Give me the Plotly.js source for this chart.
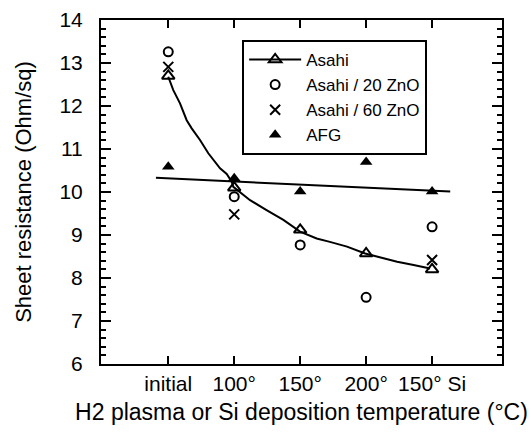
<!DOCTYPE html>
<html>
<head>
<meta charset="utf-8">
<script src="https://cdn.plot.ly/plotly-3.0.1.min.js"></script>
<style>html,body{margin:0;padding:0;background:#fff;}#chart{width:531px;height:437px;}</style>
</head>
<body>
<div id="chart"></div>
<script>
// Category positions and tick labels
const categories = [0, 1, 2, 3, 4];
const tickLabels = ["initial", "100°", "150°", "200°", "150° Si"];

// Measured points (Ohm/sq)
const asahi = [12.70, 10.10, 9.12, 8.57, 8.20];
const asahi20ZnO = [13.26, 9.89, 8.77, 7.55, 9.19];
const asahi60ZnOx = [0, 1, 4];
const asahi60ZnO = [12.91, 9.48, 8.42];
const afg = [10.59, 10.32, 10.01, 10.70, 10.01];

// Fitted curve through Asahi data
const asahiCurveX = [0, 0.076, 0.178, 0.279, 0.355, 0.481, 0.607, 0.683, 0.785, 0.886, 0.962, 0.986,
  1.24, 1.49, 1.745, 1.998, 2.25, 2.45, 2.71, 2.985, 3.21, 3.47, 3.72, 3.97];
const asahiCurveY = [12.68, 12.37, 12.06, 11.67, 11.48, 11.21, 10.90, 10.74, 10.55, 10.42, 10.24, 10.12,
  9.81, 9.58, 9.35, 9.08, 8.92, 8.84, 8.73, 8.57, 8.48, 8.38, 8.30, 8.22];

// Linear fit line for AFG
const afgFitX = [-0.187, 4.275];
const afgFitY = [10.33, 10.01];

const font = "Liberation Sans, Arial, Helvetica, sans-serif";

const traces = [
  {x: asahiCurveX, y: asahiCurveY, mode: "lines", line: {color: "#000", width: 2}, showlegend: false, hoverinfo: "skip"},
  {x: afgFitX, y: afgFitY, mode: "lines", line: {color: "#000", width: 2}, showlegend: false, hoverinfo: "skip"},
  {x: categories, y: asahi, mode: "markers", name: "Asahi", showlegend: false,
   marker: {symbol: "triangle-up-open", size: 11, color: "#000", line: {width: 2, color: "#000"}}},
  {x: [null], y: [null], mode: "lines+markers", name: "Asahi",
   line: {color: "#000", width: 2},
   marker: {symbol: "triangle-up-open", size: 11, color: "#000", line: {width: 2, color: "#000"}}},
  {x: categories, y: asahi20ZnO, mode: "markers", name: "Asahi / 20 ZnO",
   marker: {symbol: "circle-open", size: 9, color: "#000", line: {width: 2, color: "#000"}}},
  {x: asahi60ZnOx, y: asahi60ZnO, mode: "markers", name: "Asahi / 60 ZnO",
   marker: {symbol: "x-thin-open", size: 10, color: "#000", line: {width: 2, color: "#000"}}},
  {x: categories, y: afg, mode: "markers", name: "AFG",
   marker: {symbol: "triangle-up", size: 11, color: "#000", line: {width: 0}}}
];

const layout = {
  width: 531, height: 437,
  margin: {l: 101, r: 29, t: 20, b: 73},
  paper_bgcolor: "#fff", plot_bgcolor: "#fff",
  font: {family: font, size: 18, color: "#000"},
  showlegend: true,
  legend: {x: 0.352, y: 0.942, xanchor: "left", yanchor: "top",
    bordercolor: "#000", borderwidth: 2, bgcolor: "#fff", itemwidth: 52,
    font: {family: font, size: 17, color: "#000"}, tracegroupgap: 0},
  xaxis: {
    range: [-1.02, 5.06], tickmode: "array", tickvals: categories, ticktext: tickLabels,
    ticks: "inside", ticklen: 8, tickwidth: 2, tickcolor: "#000",
    showline: true, linewidth: 2, linecolor: "#000", mirror: "ticks",
    showgrid: false, zeroline: false,
    tickfont: {family: font, size: 21}, ticklabelstandoff: 0,
    title: {text: "H2 plasma or Si deposition temperature (°C)", font: {family: font, size: 23}, standoff: 10}
  },
  yaxis: {
    range: [6, 14], dtick: 1, tick0: 6,
    ticks: "inside", ticklen: 10, tickwidth: 2, tickcolor: "#000",
    minor: {dtick: 0.2, ticks: "inside", ticklen: 5, tickwidth: 2, tickcolor: "#000"},
    showline: true, linewidth: 2, linecolor: "#000", mirror: "ticks",
    showgrid: false, zeroline: false,
    tickfont: {family: font, size: 21}, ticklabelstandoff: 12,
    title: {text: "Sheet resistance (Ohm/sq)", font: {family: font, size: 22}, standoff: 22}
  }
};

Plotly.newPlot("chart", traces, layout, {staticPlot: true, displayModeBar: false});
</script>
</body>
</html>
